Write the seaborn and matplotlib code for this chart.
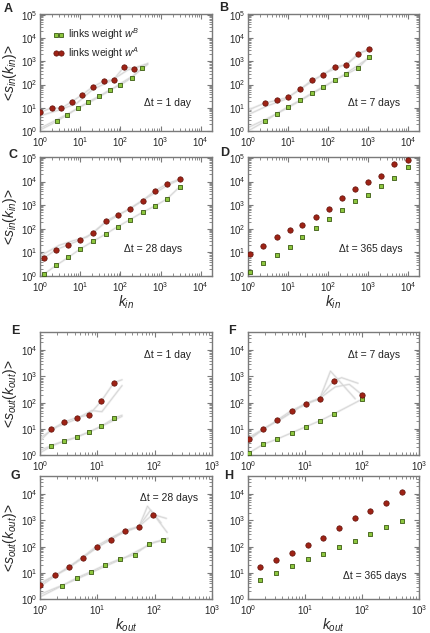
import numpy as np
import pandas as pd
import matplotlib
matplotlib.use("Agg")
import matplotlib.pyplot as plt
import seaborn as sns
from matplotlib.lines import Line2D
from matplotlib.ticker import LogLocator, NullFormatter

# ---------------- data ----------------
# Panel A  (in-strength, dt = 1 day)
a_k_red = [1, 1.95, 3.4, 6.2, 11.4, 21, 38, 68, 123, 218]
a_s_red = [6.3, 10, 9.5, 18.5, 37, 82, 138, 165, 580, 490]
a_k_green = [2.6, 4.8, 8.7, 16, 30, 55, 100, 190, 350]
a_s_green = [2.6, 5, 9.4, 18, 32, 60, 95, 200, 520]
# Panel B  (dt = 7 days)
b_k = [2.65, 5.2, 10, 20, 39, 76, 148, 290, 560, 1050]
b_s_red = [16, 21, 28, 62, 150, 260, 600, 690, 2100, 3300]
b_s_green = [2.6, 5.6, 11, 21, 42, 80, 155, 280, 510, 1500]
# Panel C  (dt = 28 days)
c_k = [1.26, 2.5, 5.1, 10, 20.6, 43, 87, 170, 355, 710, 1450, 2960]
c_s_red = [5.8, 13, 21, 34, 64, 205, 400, 680, 1560, 4000, 8000, 12600]
c_s_green = [1.2, 2.8, 6.2, 14, 29, 60, 125, 240, 500, 910, 1850, 5900]
# Panel D  (dt = 365 days)
d_k = [1.14, 2.4, 5.2, 11, 23, 49, 105, 224, 475, 1000, 2140, 4600, 9800]
d_s_red = [8.8, 19, 45, 85, 150, 325, 675, 1940, 5000, 9400, 18000, 57000, 82000]
d_s_green = [1.5, 3.5, 7.7, 17.5, 44, 107, 250, 610, 1480, 2780, 6500, 14800, 41000]
# Panel E  (out-strength, dt = 1 day)
e_k = [1.58, 2.64, 4.35, 7.2, 11.7, 19.5]
e_s_red = [9.5, 18, 27, 34, 115, 580]
e_s_green = [2.2, 3.4, 4.9, 7.5, 12.5, 25]
# Panel F  (dt = 7 days)
f_k = [1.04, 1.87, 3.2, 5.8, 10.3, 18, 32, 100]
f_s_red = [4, 9.5, 21, 50, 90, 135, 700, 200]
f_s_green = [1.2, 2.6, 4, 7, 12, 20, 37, 135]
# Panel G  (dt = 28 days)
g_k_red = [1, 1.8, 3.2, 5.6, 9.8, 17.3, 30.5, 53, 93]
g_s_red = [3.5, 8, 16, 37, 95, 185, 390, 560, 1600]
g_k_green = [2.4, 4.4, 7.7, 13.7, 24.5, 44.5, 80, 142]
g_s_green = [3.2, 6.4, 11, 20, 33, 50, 125, 180]
# Panel H  (dt = 365 days)
h_k = [1.65, 3.1, 6.0, 11.2, 21, 39.5, 74, 140, 264, 500]
h_s_red = [17, 30, 58, 115, 210, 500, 1270, 2300, 4800, 12500]
h_s_green = [5.3, 9.8, 18, 33, 54, 98, 160, 300, 560, 950]

# grey realisation curves (k list, s list)
gray_lines = {
    "A": [([1, 2.6, 4.8, 8.7, 16, 30, 55, 100, 190, 350, 480],
           [1.1, 2.6, 5, 9.4, 18, 32, 60, 95, 200, 520, 800]),
          ([1, 2, 5, 10, 20, 50, 100, 200, 480], [1.3, 2.4, 5.5, 11, 20, 50, 110, 230, 750]),
          ([1, 1.95, 3.4, 6.2, 11.4, 21, 38, 68, 123, 218, 480],
           [6.3, 10, 9.5, 18.5, 37, 82, 138, 165, 580, 490, 800]),
          ([1, 3, 8, 20, 60, 150, 480], [4.5, 8, 15, 60, 150, 420, 800])],
    "B": [([1, 2.65, 5.2, 10, 20, 39, 76, 148, 290, 560, 1050],
           [1, 2.6, 5.6, 11, 21, 42, 80, 155, 280, 510, 1500]),
          ([1, 3, 10, 30, 100, 300, 1050], [1.4, 3.4, 10, 30, 100, 320, 1400]),
          ([1, 2.65, 5.2, 10, 20, 39, 76, 148, 290, 560, 1050],
           [8, 16, 21, 28, 62, 150, 260, 600, 690, 2100, 3300]),
          ([1, 3, 8, 25, 80, 300, 700, 1050], [5, 12, 22, 80, 300, 800, 2500, 3000])],
    "C": [([1, 1.26, 2.5, 5.1, 10, 20.6, 43, 87, 170, 355, 710, 1450, 2960],
           [1, 1.2, 2.8, 6.2, 14, 29, 60, 125, 240, 500, 910, 1850, 5900]),
          ([1, 1.26, 2.5, 5.1, 10, 20.6, 43, 87, 170, 355, 710, 1450, 2960],
           [5, 5.8, 13, 21, 34, 64, 205, 400, 680, 1560, 4000, 8000, 12600]),
          ([1, 3, 7, 15, 40, 120, 400, 1500, 2960], [7, 20, 32, 45, 170, 500, 1800, 7000, 12000])],
    "E": [([1, 1.58, 2.64, 4.35, 7.2, 11.7, 19.5, 27],
           [1.2, 2.2, 3.4, 4.9, 7.5, 12.5, 25, 33]),
          ([1, 2, 4, 8, 15, 27], [1.5, 2.8, 4.4, 8.5, 16, 30]),
          ([1, 1.58, 2.64, 4.35, 7.2, 11.7, 19.5, 27],
           [3.5, 9.5, 18, 27, 34, 115, 580, 750]),
          ([1, 2, 4, 8, 12, 27], [4.5, 12, 22, 50, 45, 450])],
    "F": [([1.04, 1.87, 3.2, 5.8, 10.3, 18, 32, 100],
           [1.2, 2.6, 4, 7, 12, 20, 37, 135]),
          ([1, 1.87, 3.2, 5.8, 10.3, 18, 28, 76], [4, 9.5, 21, 50, 90, 135, 1600, 140]),
          ([1, 2, 4, 8, 18, 32, 44, 85], [3.5, 11, 25, 65, 150, 700, 900, 550]),
          ([1, 3, 10.3, 18, 34, 60, 100], [4.5, 18, 95, 145, 400, 500, 200])],
    "G": [([1, 2.4, 4.4, 7.7, 13.7, 24.5, 44.5, 80, 142, 170],
           [1.2, 3.2, 6.4, 11, 20, 33, 50, 125, 180, 210]),
          ([1, 3, 10, 30, 100, 170], [1.5, 4, 13, 38, 150, 200]),
          ([1, 1.8, 3.2, 5.6, 9.8, 17.3, 30.5, 53, 75, 165],
           [3.5, 8, 16, 37, 95, 185, 390, 560, 3500, 350]),
          ([1, 2.5, 7, 20, 53, 85, 130], [3, 12, 55, 250, 590, 2500, 800]),
          ([1, 3, 10, 30.5, 53, 93, 160], [4, 14, 110, 420, 590, 1690, 1200])],
}

# ---------------- style ----------------
sns.set_theme(style="ticks")
plt.rcParams["font.family"] = ["Liberation Sans", "DejaVu Sans"]
plt.rcParams["mathtext.fontset"] = "custom"
plt.rcParams["mathtext.rm"] = "Liberation Sans"
plt.rcParams["mathtext.it"] = "Liberation Sans:italic"
plt.rcParams["mathtext.bf"] = "Liberation Sans:bold"

GREEN_FACE = "#8cc63e"
GREEN_EDGE = "#3b5a12"
RED_FACE = "#9e2215"
RED_EDGE = "#5e0f08"
SPINE = "#7a7a7a"

W, H = 430, 633
fig = plt.figure(figsize=(W / 100, H / 100), dpi=100)


def make_ax(left, top, right, bottom):
    return fig.add_axes([left / W, 1 - bottom / H, (right - left) / W, (bottom - top) / H])


cols = [(40, 212), (248, 419)]
rows = [(14, 131), (157, 276), (332, 455), (476, 599)]

axes = {}
letters = "ABCDEFGH"
for i, L in enumerate(letters):
    r, c = divmod(i, 2)
    axes[L] = make_ax(cols[c][0], rows[r][0], cols[c][1], rows[r][1])


def style_ax(ax, xlim, ylim):
    ax.set_xscale("log")
    ax.set_yscale("log")
    ax.set_xlim(*xlim)
    ax.set_ylim(*ylim)
    for sp in ax.spines.values():
        sp.set_color(SPINE)
        sp.set_linewidth(1.0)
        sp.set_visible(True)
    ax.xaxis.set_major_locator(LogLocator(base=10, numticks=10))
    ax.yaxis.set_major_locator(LogLocator(base=10, numticks=10))
    ax.xaxis.set_minor_locator(LogLocator(base=10, subs=np.arange(2, 10), numticks=20))
    ax.yaxis.set_minor_locator(LogLocator(base=10, subs=np.arange(2, 10), numticks=20))
    ax.xaxis.set_minor_formatter(NullFormatter())
    ax.yaxis.set_minor_formatter(NullFormatter())
    ax.tick_params(which="both", direction="in", top=True, right=True, color=SPINE,
                   labelsize=7)
    ax.tick_params(axis="x", pad=3)
    ax.tick_params(axis="y", pad=2)
    ax.tick_params(which="major", length=3.5, width=0.8)
    ax.tick_params(which="minor", length=2, width=0.6)


def draw_gray(ax, key):
    for ks, ss in gray_lines.get(key, []):
        df = pd.DataFrame({"k": ks, "s": ss})
        sns.lineplot(data=df, x="k", y="s", ax=ax, sort=False, estimator=None,
                     color="#ededed", lw=1.6, zorder=1)
        sns.lineplot(data=df, x="k", y="s", ax=ax, sort=False, estimator=None,
                     color="#d2d2d2", lw=0.5, zorder=1.5)


def draw_pts(ax, k_g, s_g, k_r, s_r):
    sns.scatterplot(x=k_g, y=s_g, ax=ax, marker="s", s=9, color=GREEN_FACE,
                    edgecolor=GREEN_EDGE, linewidth=0.6, zorder=3)
    sns.scatterplot(x=k_r, y=s_r, ax=ax, marker="o", s=15, color=RED_FACE,
                    edgecolor=RED_EDGE, linewidth=0.5, zorder=3)


in_xlim, in_ylim = (1, 1.9e4), (1, 1.1e5)
out_xlim, out_ylim = (1, 1e3), (1, 5e4)

panel_data = {
    "A": (a_k_green, a_s_green, a_k_red, a_s_red),
    "B": (b_k, b_s_green, b_k, b_s_red),
    "C": (c_k, c_s_green, c_k, c_s_red),
    "D": (d_k, d_s_green, d_k, d_s_red),
    "E": (e_k, e_s_green, e_k, e_s_red),
    "F": (f_k, f_s_green, f_k, f_s_red),
    "G": (g_k_green, g_s_green, g_k_red, g_s_red),
    "H": (h_k, h_s_green, h_k, h_s_red),
}
dt_text = {"A": ("Δt = 1 day", 0.74, 0.24), "B": ("Δt = 7 days", 0.74, 0.24),
           "C": ("Δt = 28 days", 0.66, 0.23), "D": ("Δt = 365 days", 0.72, 0.23),
           "E": ("Δt = 1 day", 0.74, 0.81), "F": ("Δt = 7 days", 0.74, 0.81),
           "G": ("Δt = 28 days", 0.75, 0.82), "H": ("Δt = 365 days", 0.74, 0.19)}

for L in letters:
    ax = axes[L]
    if L in "ABCD":
        style_ax(ax, in_xlim, in_ylim)
    else:
        style_ax(ax, out_xlim, out_ylim)
    draw_gray(ax, L)
    draw_pts(ax, *panel_data[L])
    t, x, y = dt_text[L]
    ax.text(x, y, t, transform=ax.transAxes, ha="center", va="center", fontsize=7.5,
            color="#222222")
    ax.set_xlabel("")
    ax.set_ylabel("")

axes["A"].set_ylabel(r"<$s_{in}(k_{in})$>", fontsize=10, labelpad=1)
axes["C"].set_ylabel(r"<$s_{in}(k_{in})$>", fontsize=10, labelpad=1)
axes["E"].set_ylabel(r"<$s_{out}(k_{out})$>", fontsize=10, labelpad=1)
axes["G"].set_ylabel(r"<$s_{out}(k_{out})$>", fontsize=10, labelpad=1)
for L in "CD":
    axes[L].set_xlabel(r"$k_{in}$", fontsize=10, labelpad=0)
for L in "GH":
    axes[L].set_xlabel(r"$k_{out}$", fontsize=10, labelpad=0)

# legend in panel A
handles = [
    Line2D([0], [0], color="#b5b5b5", lw=0.8, marker="s", ms=3.0,
           mfc=GREEN_FACE, mec=GREEN_EDGE, mew=0.6),
    Line2D([0], [0], color="#b5b5b5", lw=0.8, marker="o", ms=3.8,
           mfc=RED_FACE, mec=RED_EDGE, mew=0.5),
]
axes["A"].legend(handles, [r"links weight $w^B$", r"links weight $w^A$"], loc="upper left",
                 bbox_to_anchor=(0.05, 0.93), frameon=False, numpoints=2, fontsize=7.5,
                 handlelength=1.1, handletextpad=0.4, labelspacing=0.3, borderaxespad=0)

letter_pos = {"A": (8, 9), "B": (224, 8), "C": (13, 155), "D": (225, 153),
              "E": (15, 331), "F": (232, 331), "G": (15, 476), "H": (229, 476)}
for L, (x, y) in letter_pos.items():
    fig.text(x / W, 1 - y / H, L, ha="center", va="center", fontsize=9, weight="bold")

fig.savefig("out.png", dpi=100)
